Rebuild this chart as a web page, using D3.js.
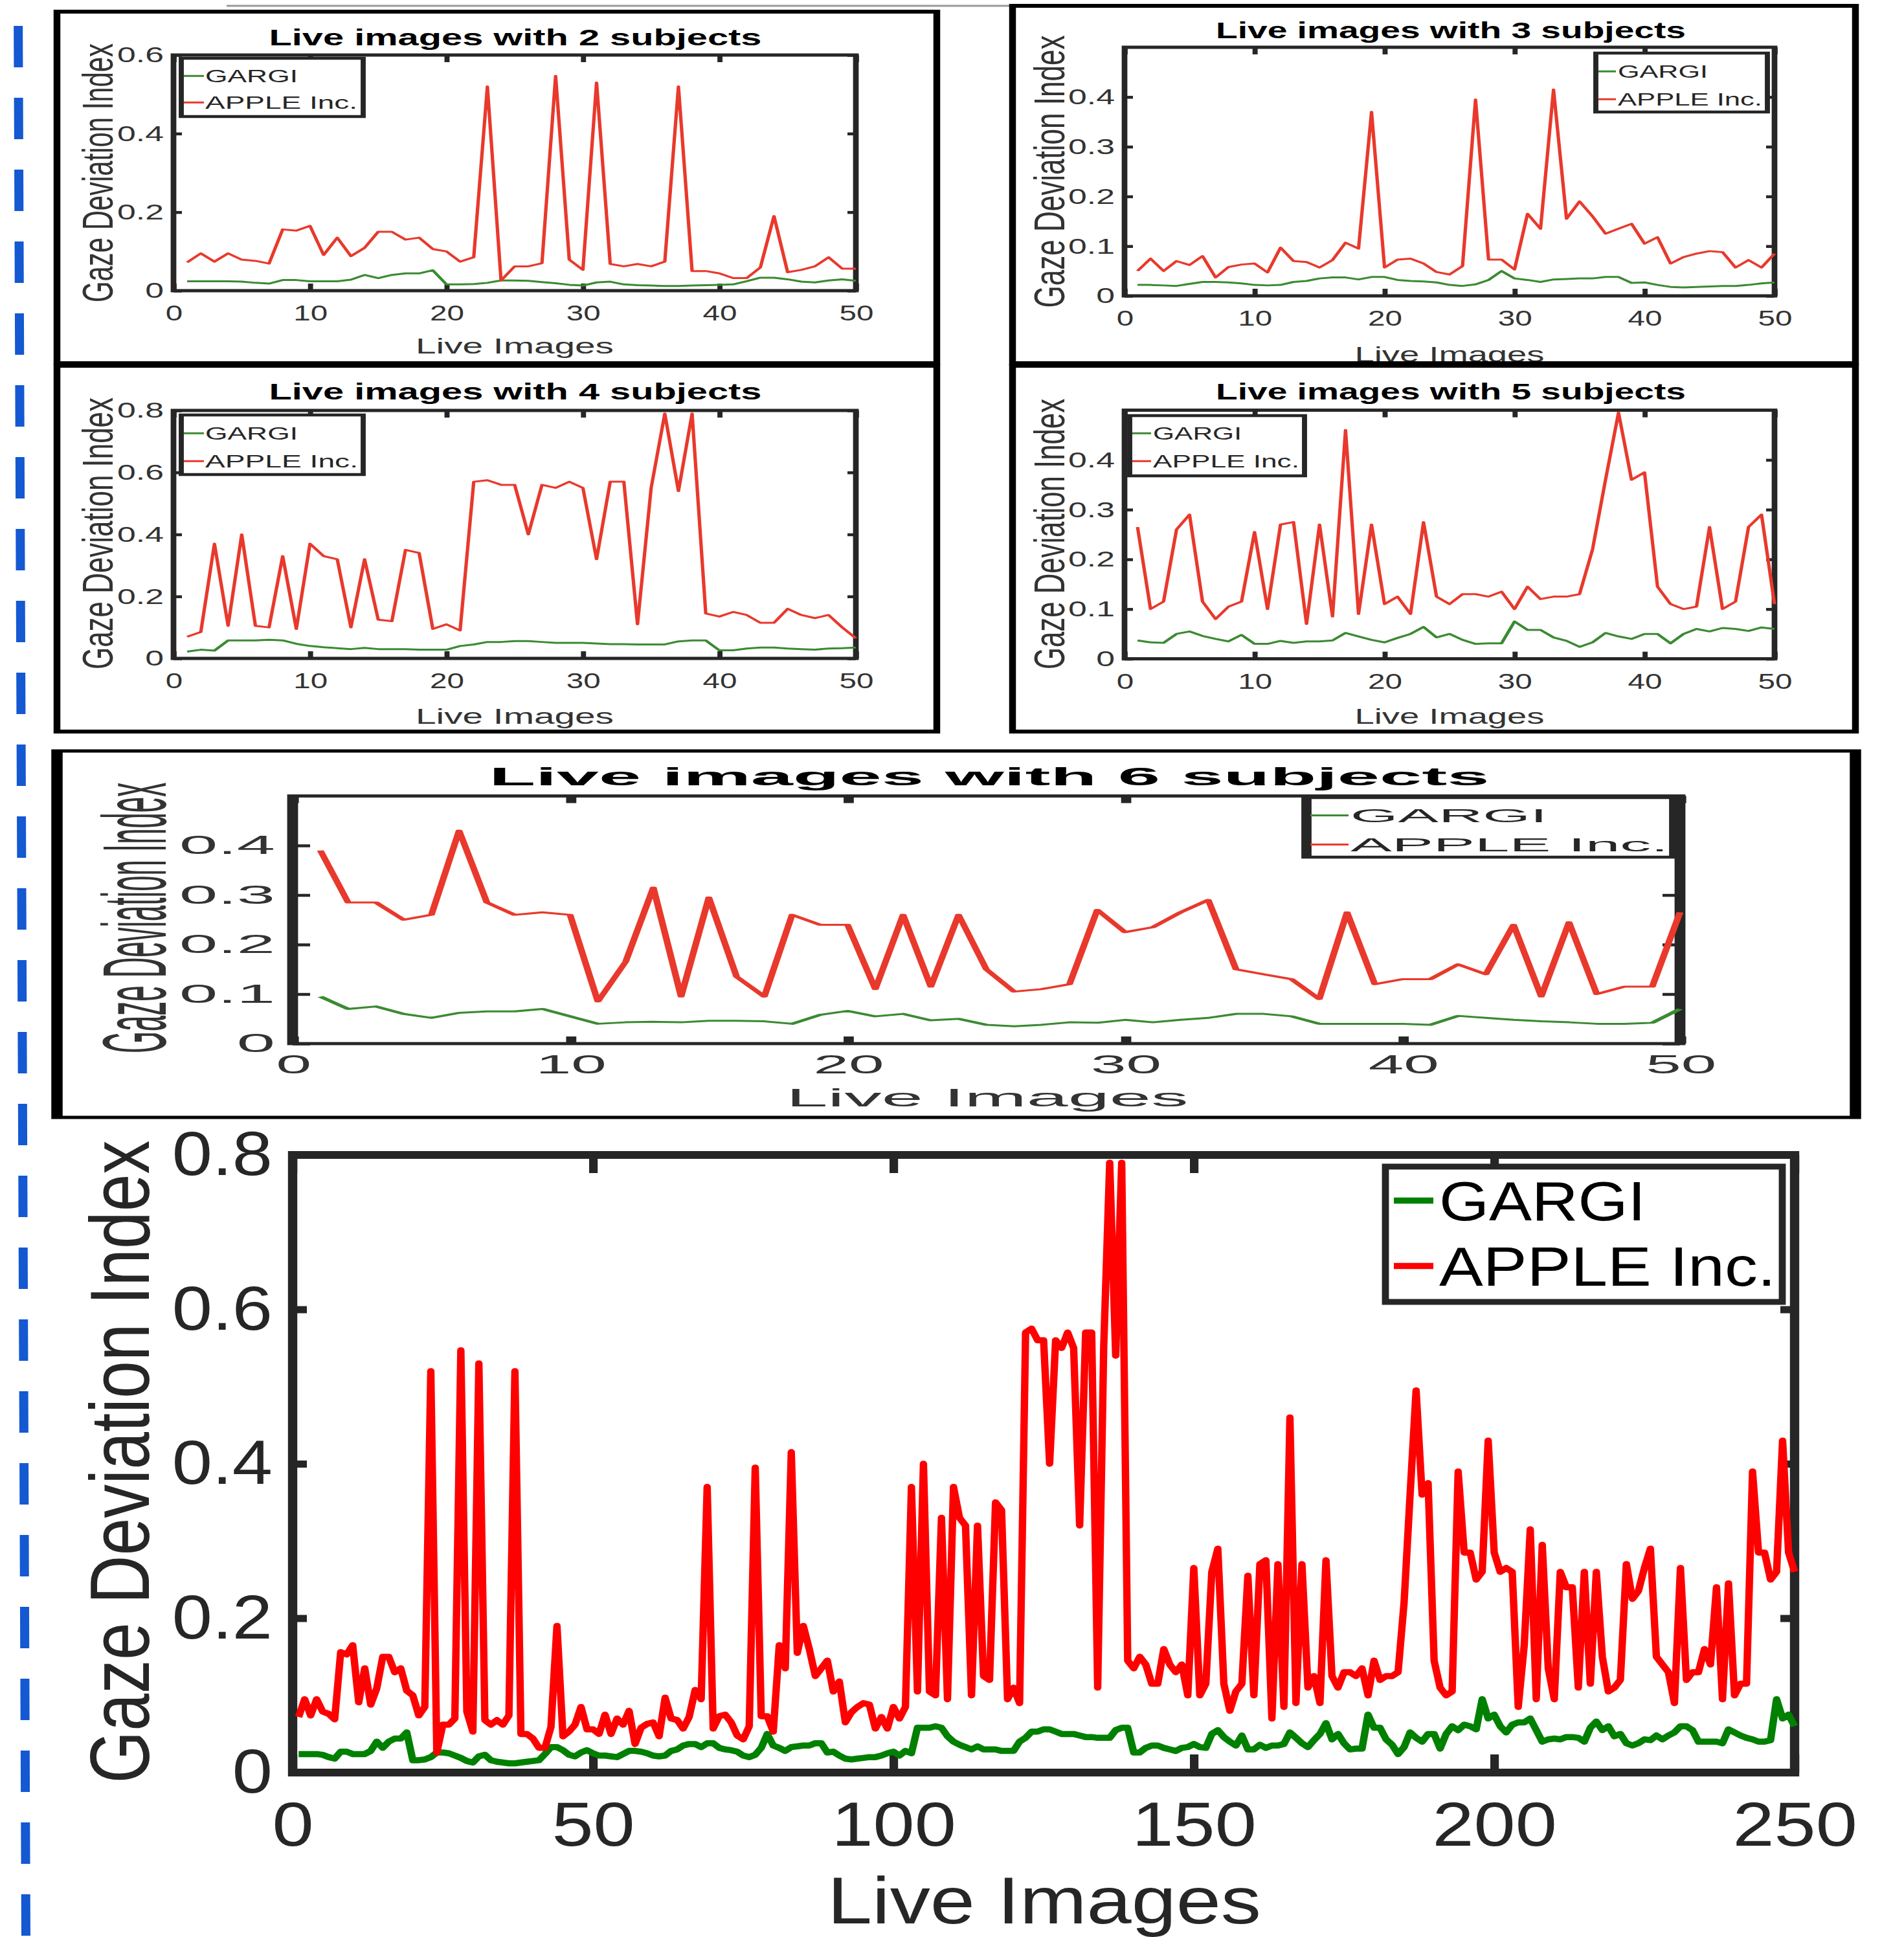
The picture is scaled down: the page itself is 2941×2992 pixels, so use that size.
<!DOCTYPE html>
<html>
<head>
<meta charset="utf-8">
<script src="https://cdn.jsdelivr.net/npm/d3@7"></script>
<style>
  body { margin: 0; background: #fff; }
  svg { display: block; }
</style>
</head>
<body>
<div id="chart"></div>
<script>
// Gaze deviation index per live image (2..6 subjects)
const gargi2 = [0.024, 0.024, 0.024, 0.024, 0.023, 0.020, 0.018, 0.027, 0.027, 0.024,
  0.024, 0.024, 0.028, 0.040, 0.032, 0.040, 0.044, 0.044, 0.052, 0.016,
  0.016, 0.017, 0.020, 0.026, 0.026, 0.025, 0.022, 0.019, 0.015, 0.013,
  0.021, 0.023, 0.016, 0.014, 0.013, 0.012, 0.012, 0.013, 0.014, 0.015,
  0.016, 0.024, 0.033, 0.033, 0.029, 0.023, 0.021, 0.026, 0.029, 0.025];
const apple2 = [0.072, 0.095, 0.074, 0.095, 0.079, 0.076, 0.069, 0.156, 0.153, 0.165,
  0.091, 0.135, 0.088, 0.109, 0.150, 0.150, 0.130, 0.135, 0.106, 0.100,
  0.074, 0.085, 0.520, 0.026, 0.062, 0.062, 0.070, 0.547, 0.079, 0.053,
  0.530, 0.068, 0.062, 0.068, 0.062, 0.074, 0.520, 0.050, 0.050, 0.044,
  0.032, 0.032, 0.059, 0.190, 0.047, 0.053, 0.062, 0.085, 0.056, 0.056];

const gargi3 = [0.022, 0.022, 0.021, 0.020, 0.024, 0.028, 0.028, 0.027, 0.025, 0.022,
  0.021, 0.022, 0.028, 0.030, 0.035, 0.037, 0.037, 0.033, 0.038, 0.038,
  0.032, 0.030, 0.029, 0.027, 0.022, 0.020, 0.023, 0.032, 0.050, 0.035,
  0.032, 0.028, 0.033, 0.034, 0.035, 0.035, 0.038, 0.038, 0.026, 0.027,
  0.022, 0.018, 0.017, 0.018, 0.019, 0.020, 0.020, 0.022, 0.025, 0.027];
const apple3 = [0.050, 0.075, 0.050, 0.070, 0.062, 0.080, 0.037, 0.058, 0.063, 0.065,
  0.047, 0.097, 0.070, 0.068, 0.057, 0.072, 0.107, 0.095, 0.370, 0.057,
  0.073, 0.075, 0.065, 0.048, 0.043, 0.060, 0.395, 0.073, 0.073, 0.053,
  0.165, 0.135, 0.415, 0.155, 0.190, 0.160, 0.125, 0.135, 0.145, 0.105,
  0.118, 0.065, 0.078, 0.085, 0.090, 0.088, 0.057, 0.072, 0.057, 0.085];

const gargi4 = [0.022, 0.028, 0.025, 0.058, 0.058, 0.058, 0.060, 0.058, 0.047, 0.040,
  0.036, 0.033, 0.030, 0.034, 0.030, 0.030, 0.030, 0.028, 0.028, 0.028,
  0.040, 0.045, 0.053, 0.053, 0.056, 0.056, 0.053, 0.050, 0.050, 0.050,
  0.048, 0.046, 0.046, 0.045, 0.045, 0.045, 0.055, 0.058, 0.058, 0.026,
  0.026, 0.032, 0.035, 0.035, 0.032, 0.030, 0.028, 0.032, 0.033, 0.035];
const apple4 = [0.070, 0.085, 0.370, 0.105, 0.400, 0.105, 0.100, 0.330, 0.095, 0.370,
  0.330, 0.320, 0.100, 0.320, 0.125, 0.120, 0.350, 0.340, 0.095, 0.110,
  0.090, 0.570, 0.575, 0.560, 0.560, 0.400, 0.560, 0.550, 0.570, 0.550,
  0.320, 0.570, 0.570, 0.110, 0.550, 0.790, 0.540, 0.790, 0.145, 0.135,
  0.150, 0.140, 0.115, 0.115, 0.160, 0.140, 0.130, 0.140, 0.100, 0.065];

const gargi5 = [0.037, 0.033, 0.032, 0.050, 0.055, 0.046, 0.040, 0.035, 0.048, 0.030,
  0.030, 0.036, 0.032, 0.035, 0.035, 0.037, 0.052, 0.045, 0.038, 0.033,
  0.042, 0.050, 0.064, 0.043, 0.050, 0.038, 0.030, 0.031, 0.031, 0.075,
  0.058, 0.058, 0.043, 0.036, 0.024, 0.033, 0.052, 0.045, 0.040, 0.050,
  0.050, 0.031, 0.050, 0.060, 0.055, 0.062, 0.060, 0.056, 0.063, 0.060];
const apple5 = [0.265, 0.100, 0.115, 0.260, 0.290, 0.115, 0.080, 0.105, 0.115, 0.255,
  0.100, 0.270, 0.275, 0.070, 0.270, 0.085, 0.460, 0.090, 0.270, 0.110,
  0.125, 0.090, 0.275, 0.125, 0.110, 0.130, 0.130, 0.125, 0.135, 0.100,
  0.145, 0.120, 0.125, 0.125, 0.130, 0.220, 0.360, 0.495, 0.360, 0.375,
  0.145, 0.110, 0.100, 0.105, 0.265, 0.100, 0.115, 0.265, 0.290, 0.110];

const gargi6 = [0.095, 0.070, 0.075, 0.060, 0.052, 0.062, 0.065, 0.065, 0.070, 0.055,
  0.040, 0.043, 0.044, 0.043, 0.046, 0.046, 0.045, 0.040, 0.058, 0.066,
  0.055, 0.060, 0.047, 0.050, 0.038, 0.035, 0.038, 0.043, 0.042, 0.048,
  0.043, 0.048, 0.052, 0.060, 0.060, 0.055, 0.040, 0.040, 0.040, 0.040,
  0.038, 0.056, 0.052, 0.048, 0.045, 0.043, 0.040, 0.040, 0.042, 0.070];
const apple6 = [0.390, 0.285, 0.285, 0.250, 0.260, 0.430, 0.285, 0.260, 0.265, 0.260,
  0.085, 0.165, 0.315, 0.095, 0.295, 0.135, 0.095, 0.260, 0.240, 0.240,
  0.110, 0.260, 0.115, 0.260, 0.150, 0.105, 0.110, 0.120, 0.270, 0.225,
  0.235, 0.265, 0.290, 0.150, 0.140, 0.130, 0.090, 0.265, 0.120, 0.130,
  0.130, 0.160, 0.140, 0.240, 0.095, 0.245, 0.100, 0.115, 0.115, 0.265];

// the overall plot strings the runs together as they appear in it (tail repeats the 6-subject start)
const allGargi = [].concat(gargi2, gargi3, gargi4.slice(0, 49), gargi5.slice(0, 48),
  gargi6.slice(0, 49), gargi6.slice(0, 4));
const allApple = [].concat(apple2, apple3, apple4.slice(0, 49), apple5.slice(0, 44),
  apple6.slice(0, 49), apple6.slice(0, 8));

const ticks50 = [0, 10, 20, 30, 40, 50];
const ticks250 = [0, 50, 100, 150, 200, 250];
const yTicks04 = [0, 0.1, 0.2, 0.3, 0.4];
const yTicks06 = [0, 0.2, 0.4, 0.6];
const yTicks08 = [0, 0.2, 0.4, 0.6, 0.8];
const seriesNames = ['GARGI', 'APPLE Inc.'];

const FONT = '"Liberation Sans", Arial, Helvetica, sans-serif';
const width = 2941, height = 2992;

const svg = d3.select('#chart').append('svg')
  .attr('width', width)
  .attr('height', height)
  .style('background', '#fff');

// blue dashed margin line and the faint rule at the very top
svg.append('line')
  .attr('x1', 28).attr('y1', 0).attr('x2', 40).attr('y2', height)
  .attr('stroke', '#1458d2').attr('stroke-width', 14)
  .attr('stroke-dasharray', '64,47').attr('stroke-dashoffset', 71);
svg.append('line')
  .attr('x1', 350).attr('y1', 9).attr('x2', 1564).attr('y2', 9)
  .attr('stroke', '#9a9a9a').attr('stroke-width', 3);

const small = {
  xTickLen: 11, yTickLen: 13, xPad: 22, yPad: 15, tickSize: 34, kx: 0.8, ky: 0.87,
  tickW: 4.5, frameW: 5, lineW: 3, legendW: 4.5, legendSize: 27, boxW: 6,
  ink: '#262626', tickFill: '#333', green: '#3b8a32', red: '#e8392c'
};
const wide = Object.assign({}, small, {
  xPad: 18, yPad: 27, yTickLen: 27, tickSize: 40, kx: 0.7, ky: 0.76,
  legendSize: 29, boxW: 5, frameW: 4.8
});
const big = {
  xTickLen: 28, yTickLen: 22, xPad: 45, yPad: 31, tickSize: 96, kx: 1, ky: 0.97,
  tickW: 11, frameW: 12, lineW: 9.5, legendW: 9, legendSize: 85, boxW: 0,
  ink: '#262626', tickFill: '#262626', green: '#008000', red: '#ff0000'
};

function addText(parent, str, x, y, o) {
  const t = parent.append('text')
    .attr('x', x).attr('y', y)
    .attr('text-anchor', o.anchor || 'middle')
    .attr('font-family', FONT)
    .attr('font-size', o.size)
    .attr('font-weight', o.weight || 'normal')
    .attr('fill', o.fill || '#262626')
    .text(str);
  if (o.len) t.attr('textLength', o.len).attr('lengthAdjust', 'spacingAndGlyphs');
  return t;
}

// every chart is drawn in its own horizontally stretched frame, like the source figures
function drawChart(c) {
  const st = c.style, sx = c.sx, ox = c.ox;
  const nx = X => (X - ox) / sx;
  const root = svg.append('g').attr('transform', `translate(${ox},0) scale(${sx},1)`);
  let g = root;
  if (c.box) {
    const [b0, b1, b2, b3] = c.box;
    root.append('clipPath').attr('id', 'clip-' + c.id)
      .append('rect')
      .attr('x', nx(b0)).attr('y', b1)
      .attr('width', (b2 - b0) / sx).attr('height', b3 - b1);
    g = root.append('g').attr('clip-path', `url(#clip-${c.id})`);
  }

  const [px0, py0, px1, py1] = c.plot;
  const x = d3.scaleLinear().domain([0, c.xMax]).range([nx(px0), nx(px1)]);
  const y = d3.scaleLinear().domain([0, c.yMax]).range([py1, py0]);
  const fmtY = d => d === 0 ? '0' : d.toFixed(1);
  const none = () => '';

  const axes = [
    [d3.axisBottom(x).tickValues(c.xTicks).tickFormat(d3.format('d'))
      .tickSize(-st.xTickLen).tickPadding(st.xPad), `translate(0,${py1})`, st.kx],
    [d3.axisTop(x).tickValues(c.xTicks).tickFormat(none).tickSize(-st.xTickLen), `translate(0,${py0})`, 1],
    [d3.axisLeft(y).tickValues(c.yTicks).tickFormat(fmtY)
      .tickSize(-st.yTickLen / sx).tickPadding(st.yPad / sx), `translate(${nx(px0)},0)`, st.ky],
    [d3.axisRight(y).tickValues(c.yTicks).tickFormat(none).tickSize(-st.yTickLen / sx), `translate(${nx(px1)},0)`, 1]
  ];
  axes.forEach(([axis, tr, k]) => {
    const a = g.append('g').attr('transform', tr).call(axis);
    a.select('.domain').remove();
    a.attr('font-family', FONT).attr('font-size', st.tickSize);
    a.selectAll('.tick line').attr('stroke', st.ink).attr('stroke-width', st.tickW);
    a.selectAll('.tick text').attr('fill', st.tickFill)
      .attr('lengthAdjust', 'spacingAndGlyphs')
      .attr('textLength', function () { return this.getComputedTextLength() * k; });
  });

  g.append('rect')
    .attr('x', nx(px0)).attr('y', py0)
    .attr('width', (px1 - px0) / sx).attr('height', py1 - py0)
    .attr('fill', 'none').attr('stroke', st.ink).attr('stroke-width', st.frameW);

  const line = d3.line().x((d, i) => x(i + 1)).y(d => y(d));
  [[c.gargi, st.green], [c.apple, st.red]].forEach(([vals, col]) => {
    g.append('path').datum(vals)
      .attr('d', line)
      .attr('fill', 'none')
      .attr('stroke', col)
      .attr('stroke-width', st.lineW)
      .attr('stroke-linejoin', 'round');
  });

  // legend
  const L = c.legend;
  g.append('rect')
    .attr('x', nx(L.box[0])).attr('y', L.box[1])
    .attr('width', (L.box[2] - L.box[0]) / sx).attr('height', L.box[3] - L.box[1])
    .attr('fill', '#fff').attr('stroke', st.ink).attr('stroke-width', st.legendW);
  [st.green, st.red].forEach((col, i) => {
    const base = L.rows[i];
    const ly = base - st.legendSize * 0.36;
    g.append('line')
      .attr('x1', nx(L.sample[0])).attr('x2', nx(L.sample[1]))
      .attr('y1', ly).attr('y2', ly)
      .attr('stroke', col).attr('stroke-width', st.lineW);
    addText(g, seriesNames[i], nx(L.textX), base,
      { anchor: 'start', size: st.legendSize, fill: c.legendFill || st.ink, len: L.widths[i] / sx });
  });

  if (c.title) {
    addText(g, c.title.text, nx(c.title.cx), c.title.y,
      { size: c.title.size, weight: 'bold', fill: '#000', len: c.title.w / sx });
  }
  addText(g, 'Live Images', nx(c.xlab.cx), c.xlab.y,
    { size: c.xlab.size, fill: st.tickFill, len: c.xlab.w / sx });
  g.append('text')
    .attr('transform', `translate(${nx(c.ylab.x)},${c.ylab.cy}) rotate(-90)`)
    .attr('text-anchor', 'middle')
    .attr('font-family', FONT)
    .attr('font-size', c.ylab.size)
    .attr('fill', st.tickFill)
    .attr('textLength', c.ylab.len)
    .attr('lengthAdjust', 'spacingAndGlyphs')
    .text('Gaze Deviation Index');

  if (c.box) {
    const [b0, b1, b2, b3] = c.box;
    root.append('rect')
      .attr('x', nx(b0)).attr('y', b1)
      .attr('width', (b2 - b0) / sx).attr('height', b3 - b1)
      .attr('fill', 'none').attr('stroke', '#000').attr('stroke-width', st.boxW);
  }
}

const charts = [
  {
    id: 'p2', style: small, sx: 1.75, ox: 88, box: [88, 18, 1447, 561],
    plot: [268, 85, 1322, 449], xMax: 50, xTicks: ticks50, yMax: 0.6, yTicks: yTicks06,
    gargi: gargi2, apple: apple2,
    title: { text: 'Live images with 2 subjects', cx: 796, y: 70, size: 36, w: 761 },
    legend: { box: [280, 90, 561, 180], sample: [284, 315], textX: 317, rows: [127, 168], widths: [143, 235] },
    ylab: { x: 174, cy: 267, size: 38, len: 400 },
    xlab: { cx: 795, y: 546, size: 34, w: 306 }
  },
  {
    id: 'p3', style: small, sx: 1.75, ox: 1564, box: [1564, 9, 2866, 561],
    plot: [1737, 73, 2741, 457], xMax: 50, xTicks: ticks50, yMax: 0.5, yTicks: yTicks04,
    gargi: gargi3, apple: apple3,
    title: { text: 'Live images with 3 subjects', cx: 2241, y: 59, size: 36, w: 726 },
    legend: { box: [2465, 82, 2730, 173], sample: [2469, 2496], textX: 2499, rows: [120, 163], widths: [139, 223] },
    ylab: { x: 1644, cy: 265, size: 38, len: 421 },
    xlab: { cx: 2239, y: 559, size: 34, w: 293 }
  },
  {
    id: 'p4', style: small, sx: 1.75, ox: 88, box: [88, 565, 1447, 1130],
    plot: [268, 634, 1322, 1017], xMax: 50, xTicks: ticks50, yMax: 0.8, yTicks: yTicks08,
    gargi: gargi4, apple: apple4,
    title: { text: 'Live images with 4 subjects', cx: 796, y: 617, size: 35, w: 761 },
    legend: { box: [280, 641, 561, 733], sample: [284, 315], textX: 317, rows: [679, 722], widths: [143, 236] },
    ylab: { x: 174, cy: 824, size: 38, len: 420 },
    xlab: { cx: 795, y: 1118, size: 34, w: 306 }
  },
  {
    id: 'p5', style: small, sx: 1.75, ox: 1564, box: [1564, 565, 2866, 1130],
    plot: [1737, 633.6, 2741, 1017.6], xMax: 50, xTicks: ticks50, yMax: 0.5, yTicks: yTicks04,
    gargi: gargi5, apple: apple5,
    title: { text: 'Live images with 5 subjects', cx: 2241, y: 617, size: 35, w: 726 },
    legend: { box: [1745, 642, 2015, 735], sample: [1749, 1778], textX: 1781, rows: [679, 722], widths: [137, 226] },
    ylab: { x: 1644, cy: 825, size: 38, len: 418 },
    xlab: { cx: 2239, y: 1118, size: 34, w: 293 }
  },
  {
    id: 'p6', style: wide, sx: 3.5, ox: 88, box: [88, 1160, 2866, 1726],
    plot: [452, 1229.5, 2595, 1612], xMax: 50, xTicks: ticks50, yMax: 0.5, yTicks: yTicks04,
    gargi: gargi6, apple: apple6,
    title: { text: 'Live images with 6 subjects', cx: 1528, y: 1213, size: 38, w: 1545 },
    legend: { box: [2018, 1232, 2586, 1324], sample: [2024, 2083], textX: 2086, rows: [1270, 1315], widths: [304, 491] },
    ylab: { x: 256, cy: 1418, size: 40, len: 418 },
    xlab: { cx: 1525, y: 1709, size: 39, w: 621 }
  },
  {
    id: 'all', style: big, sx: 1.2, ox: 452, box: null,
    plot: [452, 1784, 2772, 2738], xMax: 250, xTicks: ticks250, yMax: 0.8, yTicks: yTicks08,
    gargi: allGargi, apple: allApple, legendFill: '#000',
    legend: { box: [2140, 1802, 2753, 2011], sample: [2153, 2214], textX: 2223, rows: [1885, 1986], widths: [319, 520] },
    ylab: { x: 230, cy: 2258, size: 108, len: 993 },
    xlab: { cx: 1613, y: 2971, size: 102, w: 670 }
  }
];

charts.forEach(drawChart);
</script>
</body>
</html>
